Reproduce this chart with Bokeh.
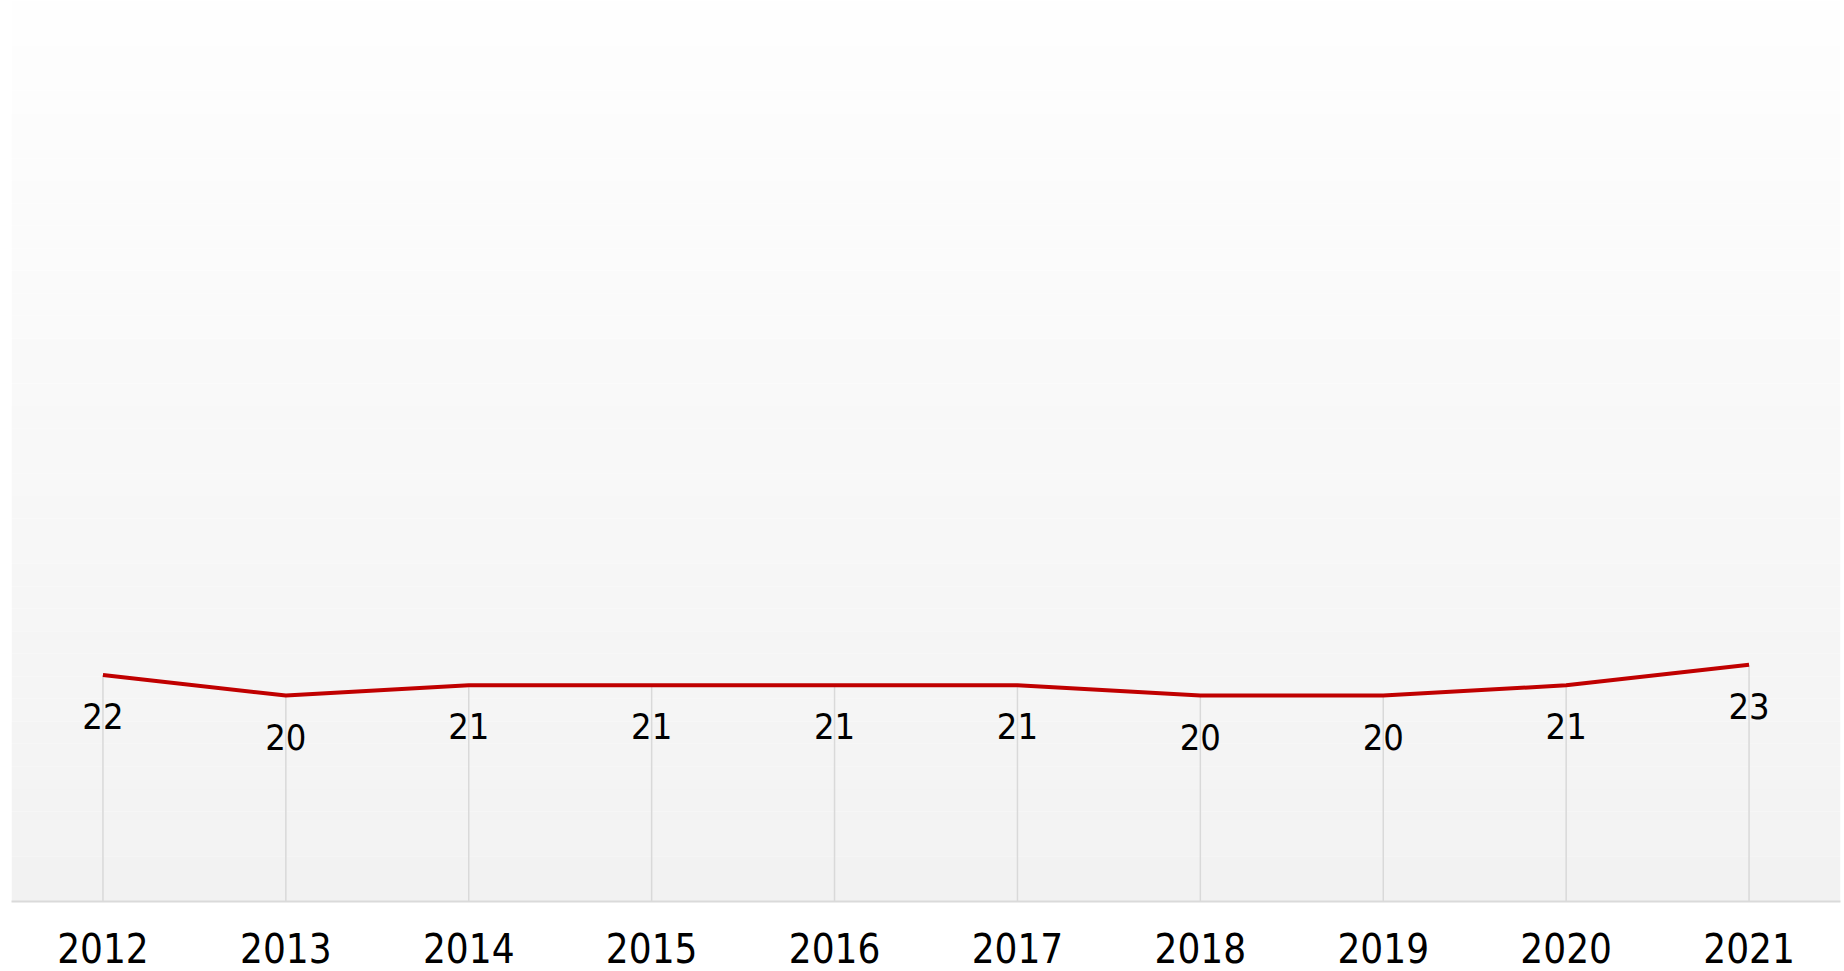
from bokeh.plotting import figure
from bokeh.models import Range1d, FixedTicker, BoxAnnotation, ColumnDataSource
from bokeh.core.properties import value
from bokeh.embed import file_html
from bokeh.resources import INLINE

years = [2012, 2013, 2014, 2015, 2016, 2017, 2018, 2019, 2020, 2021]
values = [22, 20, 21, 21, 21, 21, 20, 20, 21, 23]
labels = [str(v) for v in values]
tick_labels = {y: str(y) for y in years}

FONT = "DejaVu Sans Condensed, Roboto, sans-serif"
Y_MAX = 87.5

p = figure(width=1844, height=971, output_backend="svg", toolbar_location=None,
           x_range=Range1d(2011.5, 2021.5), y_range=Range1d(0, Y_MAX),
           min_border_left=11, min_border_right=4, min_border_top=0, min_border_bottom=70)
p.outline_line_color = None
p.background_fill_color = "white"
p.border_fill_color = "white"
p.xgrid.visible = False
p.ygrid.visible = False
p.yaxis.visible = False

# gradient background (white at top to light grey at bottom)
n = 40
for i in range(n):
    t = (i + 0.5) / n
    c = int(round(254 - (254 - 242) * t))
    col = "#%02x%02x%02x" % (c, c, c)
    top = Y_MAX * (1 - i / n)
    bot = Y_MAX * (1 - (i + 1) / n)
    p.add_layout(BoxAnnotation(top=top, bottom=bot, fill_color=col, fill_alpha=1.0,
                               line_color=None, level="image"))

src = ColumnDataSource(dict(x=years, y=values, lab=labels, zero=[0] * len(years)))

p.segment(x0="x", y0="zero", x1="x", y1="y", source=src, line_color="#d9d9d9", line_width=1.5)
p.line("x", "y", source=src, line_color="#c00000", line_width=4)
p.text(x="x", y="y", text="lab", source=src, text_align="center", text_baseline="top",
       y_offset=28, text_font=value(FONT), text_font_size="36px", text_color="#000000")

ax = p.xaxis[0]
ax.ticker = FixedTicker(ticks=years)
ax.major_label_overrides = tick_labels
ax.axis_line_color = "#dadada"
ax.axis_line_width = 2
ax.major_tick_line_color = None
ax.minor_tick_line_color = None
ax.major_tick_out = 0
ax.major_tick_in = 0
ax.major_label_standoff = 31
ax.major_label_text_font = FONT
ax.major_label_text_font_size = "40px"
ax.major_label_text_color = "#000000"

open("out.html", "w").write(file_html(p, INLINE))
